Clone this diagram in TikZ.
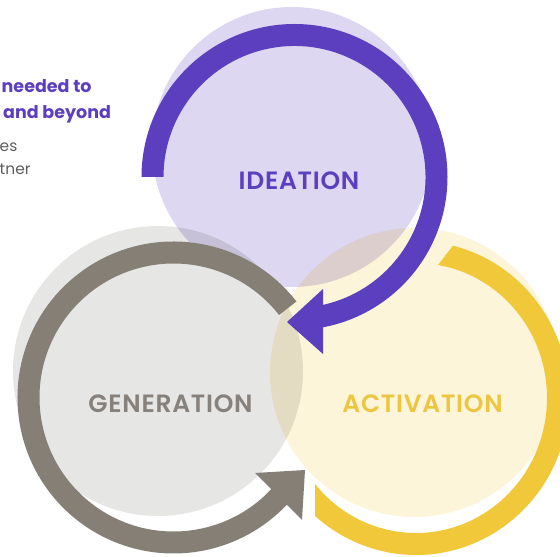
\documentclass[tikz,border=0pt]{standalone}
\usepackage{fontspec}
\setmainfont{Poppins}
\newfontfamily\labfont{Poppins SemiBold}[LetterSpace=3]
\definecolor{idring}{HTML}{5C3FBE}
\definecolor{idfill}{HTML}{DDD7F1}
\definecolor{genring}{HTML}{857F76}
\definecolor{genfill}{HTML}{E6E6E5}
\definecolor{actring}{HTML}{F0C83A}
\definecolor{actfill}{HTML}{FDF5D9}
\definecolor{gentext}{HTML}{86817A}
\definecolor{acttext}{HTML}{EDC640}
\definecolor{sidetext}{HTML}{5E5E5E}
\tikzset{
  disc/.style={circle, inner sep=0pt, draw=none},
  lab/.style={inner sep=0pt, font=\labfont\fontsize{25}{30}\selectfont},
  headline/.style={anchor=base west, inner sep=0pt, text=idring, font=\bfseries\fontsize{17.5}{21}\selectfont},
  subline/.style={anchor=base west, inner sep=0pt, text=sidetext, font=\fontsize{15.5}{19}\selectfont}
}
\begin{document}
\begin{tikzpicture}[x=1pt,y=1pt]
\useasboundingbox (0,0) rectangle (560,557);
\clip (0,0) rectangle (560,557);
% translucent discs
\begin{scope}[blend mode=multiply]
  \node[disc, fill=idfill, minimum size=280pt] (idDisc) at (292,410) {};
  \node[disc, fill=genfill, minimum size=290pt] (genDisc) at (158,186) {};
  \node[disc, fill=actfill, minimum size=289pt] (actDisc) at (414.5,184.5) {};
\end{scope}
% ring centres
\coordinate (P) at (294.5,380);
\coordinate (G) at (173.5,159.5);
\coordinate (Y) at (416,159);
% purple ring with arrow
\fill[idring] ([shift={(P)}]180:153) arc[start angle=180,end angle=-80.8,radius=153]
  -- ([shift={(P)}]-79.2:131) arc[start angle=-79.2,end angle=180,radius=131] -- cycle;
\coordinate (idTip) at (287,235);
\coordinate (idB1) at (323,268);
\coordinate (idB2) at (323,203);
\fill[idring] (idTip) -- (idB1) -- (idB2) -- cycle;
% grey ring with arrow
\fill[genring] ([shift={(G)}]38:156) arc[start angle=38,end angle=318.5,radius=156]
  -- ([shift={(G)}]318.5:134) arc[start angle=318.5,end angle=38,radius=134] -- cycle;
\coordinate (genTip) at (305,87);
\coordinate (genB1) at (255,84);
\coordinate (genB2) at (302,37);
\fill[genring] (genTip) -- (genB1) -- (genB2) -- cycle;
% yellow ring
\fill[actring] ([shift={(Y)}]76:153 and 157) arc[start angle=76,end angle=-131.3,x radius=153,y radius=157]
  -- ([shift={(Y)}]-140.4:131 and 135) arc[start angle=-140.4,end angle=80.3,x radius=131,y radius=135] -- cycle;
% labels
\node[lab, text=idring, anchor=base] (ideation) at (299,367) {IDEATION};
\node[lab, text=gentext, anchor=base] (generation) at (170.5,144) {GENERATION};
\node[lab, text=acttext, anchor=base] (activation) at (422.5,144) {ACTIVATION};
% side text
\node[headline] (h1) at (1.5,464) {needed to};
\node[headline] (h2) at (3,438) {and beyond};
\node[subline] (s1) at (-0.5,405) {es};
\node[subline] (s2) at (-0.5,382) {tner};
\end{tikzpicture}
\end{document}
